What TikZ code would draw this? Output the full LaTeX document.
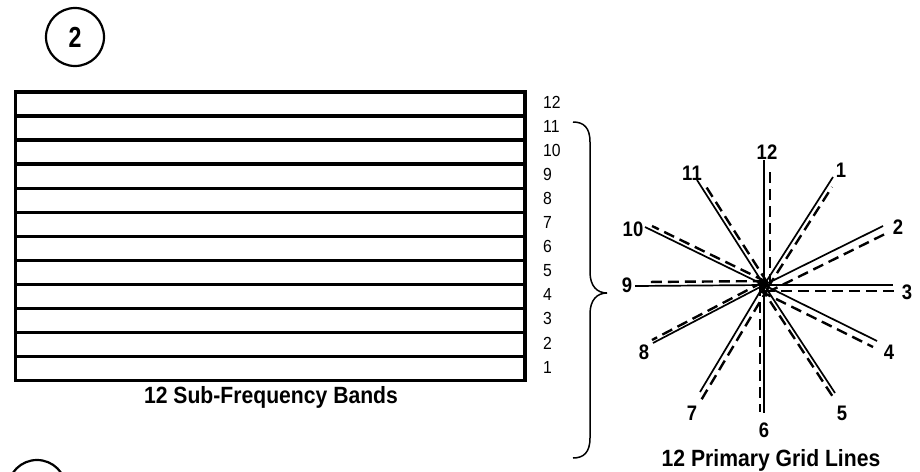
\documentclass[tikz,border=0pt]{standalone}
\usepackage{fontspec}
\setmainfont{Liberation Sans}
\newfontfamily\capfont[FakeStretch=0.9]{Liberation Sans}
\newfontfamily\numfont[FakeStretch=0.9]{Liberation Sans}
\newfontfamily\labfont[FakeStretch=0.88]{Liberation Sans}
\newfontfamily\badgefont[FakeStretch=0.8]{Liberation Sans}
\usetikzlibrary{calc}
\begin{document}
\begin{tikzpicture}[x=1pt,y=-1pt,
  bandline/.style={line width=3.3pt},
  bandnum/.style={anchor=west,inner sep=0pt,font=\numfont\fontsize{17.5}{18}\selectfont},
  caption/.style={inner sep=0pt,anchor=base,font=\capfont\fontsize{23.5}{24}\selectfont\bfseries},
  ray/.style={line width=1.7pt},
  dray/.style={line width=2.4pt,dash pattern=on 11pt off 6pt},
  raylabel/.style={inner sep=0pt,font=\labfont\fontsize{21}{21}\selectfont\bfseries},
  badge/.style={circle,draw,line width=2.2pt,minimum size=58pt,inner sep=0pt,outer sep=0pt},
  bracestyle/.style={line width=1.5pt}
]
\useasboundingbox (0,0) rectangle (920,471);

% badges
\node[badge,font=\badgefont\fontsize{29}{29}\selectfont\bfseries] (b2) at (75,37) {2};
\node[badge] (b3) at (37,489) {};

% band rectangle
\node[draw,line width=3.3pt,minimum width=509.5pt,minimum height=288.5pt,
      inner sep=0pt,outer sep=0pt,anchor=north west] (bands) at (15.5,92) {};
\foreach \i in {1,...,11}
  \draw[bandline] ($(bands.north west)+(0,\i*24.04)$) -- ($(bands.north east)+(0,\i*24.04)$);
\foreach \i in {1,...,12}
  \node[bandnum] (n\i) at (543,{379-(\i-0.5)*24.04}) {\i};
\node[caption] (cap1) at (271,403) {12 Sub-Frequency Bands};

% brace
\coordinate (bt) at (573,122);
\coordinate (btip) at (607,293);
\coordinate (bb) at (573,458);
\draw[bracestyle] (bt) .. controls (584,122) and (590,128) .. (590,142) -- (590,272)
  .. controls (590,286) and (597,293) .. (btip)
  .. controls (597,293) and (590,300) .. (590,314) -- (590,438)
  .. controls (590,452) and (584,458) .. (bb);

% star
\coordinate (c) at (764,285);
\foreach \k/\ex/\ey/\px/\py in {
  12/764/160/770/168, 1/833/177/832/187, 2/883/226/887/233, 3/893/285/900/291,
  4/877/341/873/347, 5/835/393/833/397, 6/764/413/760/412, 7/700/392/700/402,
  8/653/343/652/340, 9/635/286/645/282, 10/645/227/652/226, 11/697/180/705/185}{
  \coordinate (e\k) at (\ex,\ey);
  \coordinate (p\k) at (\px,\py);
  \draw[ray] (c) -- (e\k);
  \coordinate (q\k) at ($(c)!(p\k)!(e\k)$);
  \coordinate (s\k) at ($(c)+(p\k)-(q\k)$);
  \draw[dray] (s\k) -- (p\k);
}
\foreach \k/\lx/\ly in {12/767/152, 1/841/170, 2/898/227, 3/907/292, 4/889/352,
  5/842/413, 6/764/430, 7/692/413, 8/644/352, 9/627/285, 10/633/229, 11/692/173}
  \node[raylabel] (l\k) at (\lx,\ly) {\k};
\node[caption] (cap2) at (771,466) {12 Primary Grid Lines};
\end{tikzpicture}
\end{document}
